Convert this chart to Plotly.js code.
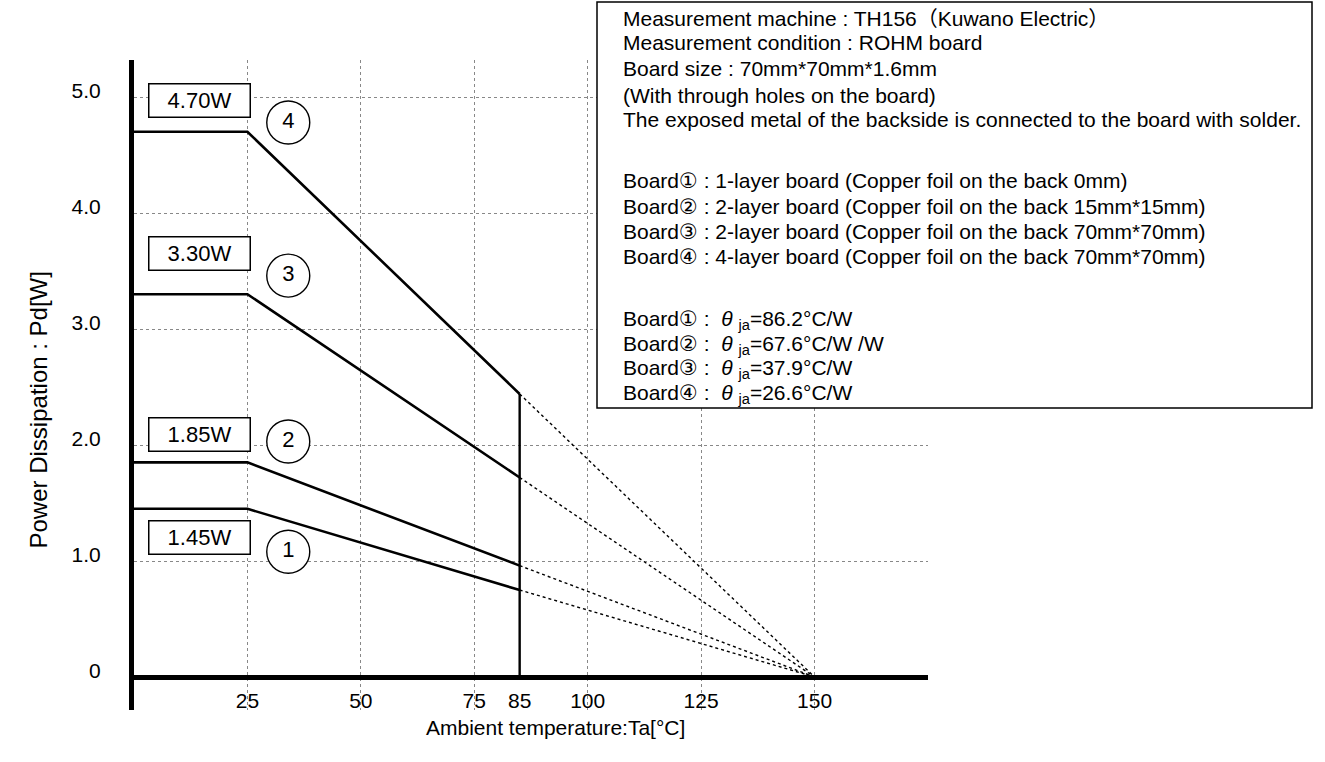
<!DOCTYPE html>
<html>
<head>
<meta charset="utf-8">
<script src="https://cdn.plot.ly/plotly-3.0.1.min.js"></script>
<style>html,body{margin:0;padding:0;background:#fff;}#chart{width:1325px;height:762px;}</style>
</head>
<body>
<div id="chart"></div>
<script>
// ---- data ----
const boards = ['1', '2', '3', '4'];
const pdMax = [1.45, 1.85, 3.30, 4.70];          // W, flat up to 25 °C
const pd85 = [0.75, 0.96, 1.72, 2.44];           // W at Ta = 85 °C
const pdLabels = ['1.45W', '1.85W', '3.30W', '4.70W'];
const taPoints = [0, 25, 85];                     // °C breakpoints of solid lines
const taMaxOp = 85;                               // operating limit
const tjMax = 150;                                // derating reaches 0 W
const xTickVals = [25, 50, 75, 85, 100, 125, 150];
const xTickText = ['25', '50', '75', '85', '100', '125', '150'];
const xGridVals = [25, 50, 75, 100, 125, 150];
const yTickVals = [0, 1, 2, 3, 4, 5];
const yTickText = ['0', '1.0', '2.0', '3.0', '4.0', '5.0'];
const infoLines = [
  'Measurement machine : TH156（Kuwano Electric）',
  'Measurement condition : ROHM board',
  'Board size : 70mm*70mm*1.6mm',
  '(With through holes on the board)',
  'The exposed metal of the backside is connected to the board with solder.',
  'Board① : 1-layer board (Copper foil on the back 0mm)',
  'Board② : 2-layer board (Copper foil on the back 15mm*15mm)',
  'Board③ : 2-layer board (Copper foil on the back 70mm*70mm)',
  'Board④ : 4-layer board (Copper foil on the back 70mm*70mm)',
  'Board① :  <i>θ</i> <sub>ja</sub>=86.2°C/W',
  'Board② :  <i>θ</i> <sub>ja</sub>=67.6°C/W /W',
  'Board③ :  <i>θ</i> <sub>ja</sub>=37.9°C/W',
  'Board④ :  <i>θ</i> <sub>ja</sub>=26.6°C/W'
];

// ---- layout geometry ----
const W = 1325, H = 762, L = 134, R = 397, T = 60, B = 52;
const PW = W - L - R, PH = H - T - B;
const px2x = p => (p - L) / PW;
const px2y = p => (H - B - p) / PH;
const FONT = 'Liberation Sans, Arial, DejaVu Sans, Noto Sans CJK JP, sans-serif';

const traces = [];
boards.forEach((b, i) => {
  traces.push({
    x: taPoints, y: [pdMax[i], pdMax[i], pd85[i]],
    mode: 'lines', line: {color: '#000', width: 2.6}, hoverinfo: 'skip', showlegend: false
  });
  traces.push({
    x: [taMaxOp, tjMax], y: [pd85[i], 0],
    mode: 'lines', line: {color: '#000', width: 1.4, dash: 'dot'}, hoverinfo: 'skip', showlegend: false
  });
});
traces.push({
  x: [taMaxOp, taMaxOp], y: [0, Math.max(...pd85)],
  mode: 'lines', line: {color: '#000', width: 2.4}, hoverinfo: 'skip', showlegend: false
});
// circled board numbers
const circleX = [34, 34, 34, 34];
const circleY = [1.08, 2.03, 3.46, 4.78];
traces.push({
  x: circleX, y: circleY, text: boards, mode: 'markers+text', textposition: 'middle center',
  marker: {size: 43, color: '#fff', line: {color: '#000', width: 1.4}},
  textfont: {family: FONT, size: 22, color: '#000'}, hoverinfo: 'skip', showlegend: false
});
// trace carrying the labelled x axis
traces.push({x: [taMaxOp], y: [0], xaxis: 'x2', yaxis: 'y', mode: 'markers',
  marker: {size: 1, opacity: 0}, showlegend: false, hoverinfo: 'skip'});

const annotations = [];
const boxY = [1.20, 2.09, 3.65, 4.97];
pdLabels.forEach((t, i) => {
  annotations.push({
    x: 14.4, y: boxY[i], xref: 'x', yref: 'y', text: t, showarrow: false,
    font: {family: FONT, size: 22, color: '#000'},
    bgcolor: '#fff', bordercolor: '#000', borderwidth: 1.5, borderpad: 0,
    width: 100, height: 32
  });
});
const lineY = [18, 43, 68, 95, 119, 181, 206, 231, 256, 320, 345, 369, 394];
infoLines.forEach((t, i) => {
  annotations.push({
    x: px2x(621), y: px2y(lineY[i]), xref: 'paper', yref: 'paper', xanchor: 'left', yanchor: 'middle',
    text: t, showarrow: false, align: 'left', font: {family: FONT, size: 21, color: '#000'}
  });
});
annotations.push({
  x: px2x(555), y: px2y(741), xref: 'paper', yref: 'paper', text: 'Ambient temperature:Ta[°C]',
  showarrow: false, font: {family: FONT, size: 21, color: '#000'}
});
annotations.push({
  x: px2x(22), y: px2y(410), xref: 'paper', yref: 'paper', text: 'Power Dissipation : Pd[W]', textangle: -90,
  showarrow: false, font: {family: FONT, size: 24, color: '#000'}
});

const layout = {
  width: W, height: H,
  margin: {l: L, r: R, t: T, b: B, pad: 0},
  paper_bgcolor: '#fff', plot_bgcolor: '#fff',
  showlegend: false,
  font: {family: FONT, size: 20, color: '#000'},
  xaxis: {
    range: [0, 175], tickmode: 'array', tickvals: xGridVals, showticklabels: false, ticks: '',
    showgrid: true, gridcolor: '#888', gridwidth: 1, griddash: 'dot', zeroline: false, showline: false,
    fixedrange: true
  },
  xaxis2: {
    overlaying: 'x', anchor: 'free', position: px2y(686), side: 'bottom',
    range: [0, 175], tickmode: 'array', tickvals: xTickVals, ticktext: xTickText, ticks: '',
    showgrid: false, zeroline: false, showline: false,
    tickfont: {family: FONT, size: 21, color: '#000'}, fixedrange: true
  },
  yaxis: {
    range: [-0.2845, 5.319], tickmode: 'array', tickvals: yTickVals, ticktext: yTickText, ticks: '',
    showgrid: true, gridcolor: '#888', gridwidth: 1, griddash: 'dot',
    zeroline: true, zerolinecolor: '#000', zerolinewidth: 5,
    showline: true, linecolor: '#000', linewidth: 5,
    ticklabelstandoff: 24, ticklabelshift: -6,
    tickfont: {family: FONT, size: 21, color: '#000'}, fixedrange: true
  },
  shapes: [{
    type: 'rect', xref: 'paper', yref: 'paper', layer: 'above',
    x0: px2x(597), x1: px2x(1312), y0: px2y(408), y1: px2y(2),
    fillcolor: '#fff', line: {color: '#000', width: 1.5}
  }],
  annotations: annotations
};

Plotly.newPlot('chart', traces, layout, {staticPlot: true, displayModeBar: false});
</script>
</body>
</html>
